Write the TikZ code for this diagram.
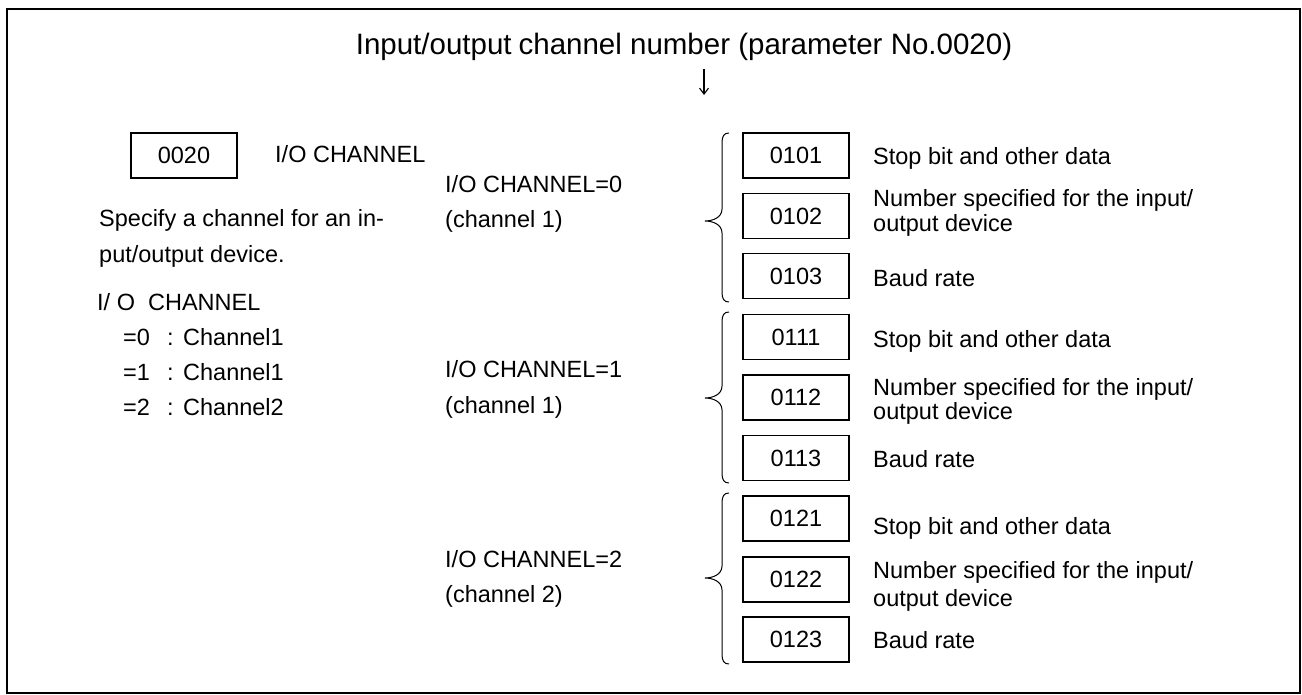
\documentclass[tikz,border=0pt]{standalone}
\usepackage{fontspec}
\setmainfont{Liberation Sans}
\usetikzlibrary{arrows.meta}
\newcommand{\curlybrace}[3]{%
  \draw[bracestyle] (729,#1) .. controls (724,#1) and (722,#1+3) .. (722,#1+10)
    -- (722,#2-12) .. controls (722,#2-3) and (712,#2) .. (705,#2)
    .. controls (712,#2) and (722,#2+3) .. (722,#2+12)
    -- (722,#3-10) .. controls (722,#3-3) and (724,#3) .. (729,#3);}
\begin{document}
\begin{tikzpicture}[x=1pt,y=-1pt,
  txt/.style={inner sep=0pt,anchor=base west,font=\fontsize{23.5}{28}\selectfont},
  regbox/.style={draw,line width=1.2pt,minimum width=106pt,minimum height=45pt,inner sep=0pt,font=\fontsize{23.5}{28}\selectfont},
  bracestyle/.style={line width=1pt}]
\useasboundingbox (0,0) rectangle (1302,695);
\draw[line width=2pt] (7,9) rectangle (1300,693);

\node[inner sep=0pt,anchor=base,font=\fontsize{29.5}{34}\selectfont] (title) at (684,55) {Input/output\hspace{7pt}channel number (parameter No.0020)};
\coordinate (arrtop) at (704,69);
\coordinate (arrbot) at (704,95);
\draw[line width=1.1pt,-{Straight Barb[length=6pt,width=9pt]}] (arrtop) -- (arrbot);

% left part
\node[regbox] (p0020) at (184,155.5) {0020};
\node[txt] (pname) at (275,163) {I/O CHANNEL};
\node[txt] (d1) at (99,227) {Specify a channel for an in-};
\node[txt] (d2) at (99,263) {put/output device.};
\node[txt] (d3) at (97,310) {I/\ O\ \ CHANNEL};
\node[txt] (v0) at (123,345) {=0};
\node[txt] (c0) at (167,345) {:};
\node[txt] (n0) at (183,345) {Channel1};
\node[txt] (v1) at (123,380) {=1};
\node[txt] (c1) at (167,380) {:};
\node[txt] (n1) at (183,380) {Channel1};
\node[txt] (v2) at (123,415) {=2};
\node[txt] (c2) at (167,415) {:};
\node[txt] (n2) at (183,415) {Channel2};

% channel labels
\node[txt] (ch0a) at (445,193) {I/O CHANNEL=0};
\node[txt] (ch0b) at (445,228) {(channel 1)};
\node[txt] (ch1a) at (445,377) {I/O CHANNEL=1};
\node[txt] (ch1b) at (445,413) {(channel 1)};
\node[txt] (ch2a) at (445,567) {I/O CHANNEL=2};
\node[txt] (ch2b) at (445,602) {(channel 2)};

% braces
\curlybrace{133}{221}{302}
\curlybrace{312}{398}{483}
\curlybrace{493}{578}{664}

% registers
\node[regbox] (r0101) at (796,155.5) {0101};
\node[regbox] (r0102) at (796,216) {0102};
\node[regbox] (r0103) at (796,276) {0103};
\node[regbox] (r0111) at (796,337) {0111};
\node[regbox] (r0112) at (796,397.5) {0112};
\node[regbox] (r0113) at (796,458) {0113};
\node[regbox] (r0121) at (796,518.5) {0121};
\node[regbox] (r0122) at (796,579.5) {0122};
\node[regbox] (r0123) at (796,639.5) {0123};

% descriptions
\node[txt] (t0101) at (873,165) {Stop bit and other data};
\node[txt] (t0102a) at (873,207) {Number specified for the input/};
\node[txt] (t0102b) at (873,232) {output device};
\node[txt] (t0103) at (873,287) {Baud rate};
\node[txt] (t0111) at (873,347) {Stop bit and other data};
\node[txt] (t0112a) at (873,395) {Number specified for the input/};
\node[txt] (t0112b) at (873,419) {output device};
\node[txt] (t0113) at (873,467) {Baud rate};
\node[txt] (t0121) at (873,534) {Stop bit and other data};
\node[txt] (t0122a) at (873,578) {Number specified for the input/};
\node[txt] (t0122b) at (873,606) {output device};
\node[txt] (t0123) at (873,648) {Baud rate};
\end{tikzpicture}
\end{document}
